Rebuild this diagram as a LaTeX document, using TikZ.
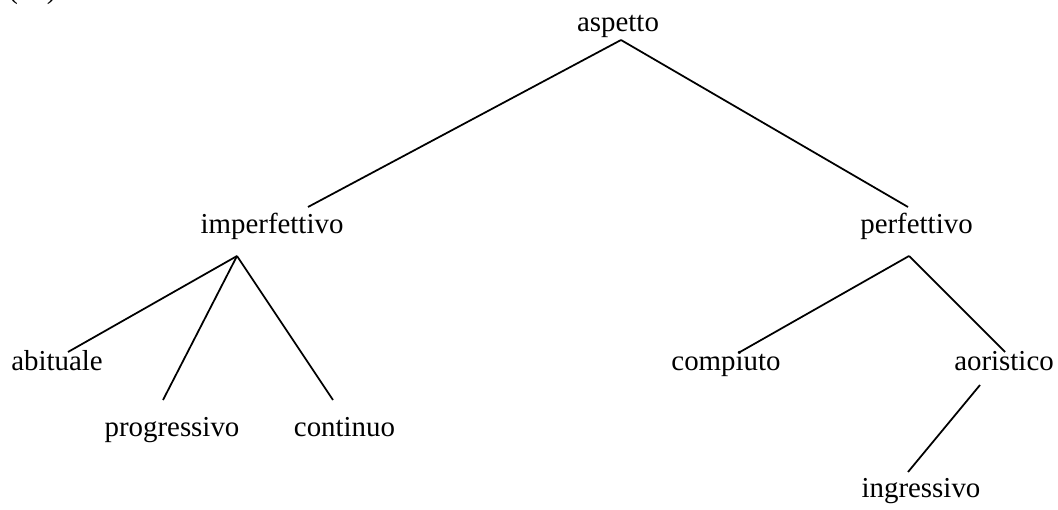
\documentclass[tikz,border=0pt]{standalone}
\usepackage{fontspec}
\setmainfont{Liberation Serif}
\usetikzlibrary{calc}
\begin{document}
\begin{tikzpicture}[x=0.02cm,y=-0.02cm,
  lbl/.style={anchor=base,inner sep=0pt,font=\fontsize{16.45}{20}\selectfont},
  edge/.style={line width=1pt,black}]
\clip (0,0) rectangle (1058,510);
\useasboundingbox (0,0) rectangle (1058,510);
\node[lbl,anchor=base west] (num) at (8,-1) {(\phantom{00})};
\node[lbl] (asp) at (618,32) {aspetto};
\node[lbl] (imp) at (272,233) {imperfettivo};
\node[lbl] (perf) at (916.5,233) {perfettivo};
\node[lbl] (abit) at (57,370) {abituale};
\node[lbl] (prog) at (172,436) {progressivo};
\node[lbl] (cont) at (344.5,436) {continuo};
\node[lbl] (comp) at (726,370) {compiuto};
\node[lbl] (aor) at (1004,370) {aoristico};
\node[lbl] (ingr) at (921,497) {ingressivo};
\draw[edge] ($(asp.base)+(3,8)$) -- ($(imp.base)+(36,-26)$);
\draw[edge] ($(asp.base)+(3,8)$) -- ($(perf.base)+(-8.5,-26)$);
\draw[edge] ($(imp.base)+(-35,23)$) -- ($(abit.base)+(11,-18)$);
\draw[edge] ($(imp.base)+(-35,23)$) -- ($(prog.base)+(-9,-36)$);
\draw[edge] ($(imp.base)+(-35,23)$) -- ($(cont.base)+(-11.5,-36)$);
\draw[edge] ($(perf.base)+(-7.5,23)$) -- ($(comp.base)+(14,-18)$);
\draw[edge] ($(perf.base)+(-7.5,23)$) -- ($(aor.base)+(1,-18)$);
\draw[edge] ($(aor.base)+(-24,15)$) -- ($(ingr.base)+(-13,-25)$);
\end{tikzpicture}
\end{document}
